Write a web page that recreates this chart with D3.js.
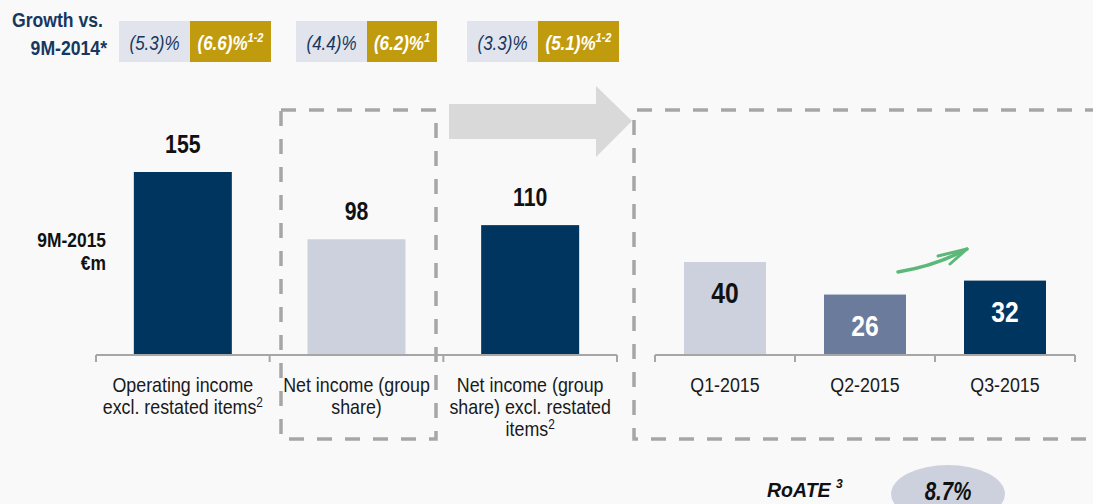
<!DOCTYPE html>
<html>
<head>
<meta charset="utf-8">
<script src="https://cdn.jsdelivr.net/npm/d3@7"></script>
<style>
  body { margin: 0; background: #f9f9f9; }
  svg { display: block; font-family: "Liberation Sans", Arial, sans-serif; }
</style>
</head>
<body>
<div id="main"></div>
<script>
// data
var leftCats = ["Operating income excl. restated items", "Net income (group share)", "Net income (group share) excl. restated items"];
var leftLines = [["Operating income", "excl. restated items"], ["Net income (group", "share)"], ["Net income (group", "share) excl. restated", "items"]];
var leftNotes = ["2", "", "2"];
var leftValues = [155, 98, 110];
var quarters = ["Q1-2015", "Q2-2015", "Q3-2015"];
var quarterValues = [40, 26, 32];
var growthLight = ["(5.3)%", "(4.4)%", "(3.3)%"];
var growthGold = ["(6.6)%", "(6.2)%", "(5.1)%"];
var growthNotes = ["1-2", "1", "1-2"];
var roate = "8.7%";

var navy = "#003560", pale = "#cdd1de", mid = "#6b7b9b", gold = "#c19b0e", grey = "#a6a6a6";
var leftColors = [navy, pale, navy];
var rightColors = [pale, mid, navy];
var NARROW = 0.85; // the original uses a condensed face

var W = 1093, H = 504;
var svg = d3.select("#main").append("svg").attr("width", W).attr("height", H);

// condensed text: scale horizontally around the anchor point
function ntext(parent, x, y, size, sx) {
  return parent.append("text")
    .attr("transform", "translate(" + x + "," + y + ") scale(" + (sx || NARROW) + ",1)")
    .attr("font-size", size);
}

// scales
var xL = d3.scaleBand().domain(leftCats).range([96, 617]);
var xR = d3.scaleBand().domain(quarters).range([655, 1075]);
var yL = d3.scaleLinear().domain([0, 155]).range([355, 172]);
var yR = d3.scaleLinear().domain([0, 40]).range([355, 262]);
var bwL = 98, bwR = 82;

// growth header
ntext(svg, 103, 27, 21, 0.84).attr("text-anchor", "end").attr("fill", "#17375e")
  .attr("font-weight", "bold").text("Growth vs.");
ntext(svg, 107, 55, 21, 0.84).attr("text-anchor", "end").attr("fill", "#17375e")
  .attr("font-weight", "bold").text("9M-2014*");

var boxX = [119, 296, 467];
var goldW = [81, 70, 81];
growthLight.forEach(function(d, i) {
  var g = svg.append("g").attr("transform", "translate(" + boxX[i] + ",21)");
  g.append("rect").attr("width", 71).attr("height", 41).attr("fill", "#e1e4ec");
  g.append("rect").attr("x", 71).attr("width", goldW[i]).attr("height", 41).attr("fill", gold);
  ntext(g, 35.5, 29, 20).attr("text-anchor", "middle").attr("font-style", "italic")
    .attr("fill", "#17375e").text(d);
  var t = ntext(g, 71 + goldW[i] / 2, 29, 20).attr("text-anchor", "middle").attr("font-style", "italic")
    .attr("font-weight", "bold").attr("fill", "#fff");
  t.append("tspan").text(growthGold[i]);
  t.append("tspan").attr("font-size", 13).attr("dy", -8).text(growthNotes[i]);
});

// dashed frames
svg.append("rect").attr("x", 281).attr("y", 110).attr("width", 155).attr("height", 329)
  .attr("fill", "none").attr("stroke", grey).attr("stroke-width", 3.5).attr("stroke-dasharray", "15 13");
svg.append("path").attr("d", "M1100,110H634V439H1100")
  .attr("fill", "none").attr("stroke", grey).attr("stroke-width", 3.5).attr("stroke-dasharray", "15 13");

// big arrow
svg.append("path").attr("d", "M449,104H596V86L632,121L596,157V139H449Z").attr("fill", "#d9d9d9");

// y label
ntext(svg, 106, 247, 20, 0.87).attr("text-anchor", "end").attr("font-weight", "bold").attr("fill", "#111").text("9M-2015");
ntext(svg, 106, 270, 20, 0.87).attr("text-anchor", "end").attr("font-weight", "bold").attr("fill", "#111").text("€m");

// left bars
svg.selectAll(".barL").data(leftValues).enter().append("rect")
  .attr("x", function(d, i) { return xL(leftCats[i]) + xL.bandwidth() / 2 - bwL / 2; })
  .attr("y", function(d) { return yL(d); })
  .attr("width", bwL).attr("height", function(d) { return yL(0) - yL(d); })
  .attr("fill", function(d, i) { return leftColors[i]; });
leftValues.forEach(function(d, i) {
  ntext(svg, xL(leftCats[i]) + xL.bandwidth() / 2, yL(d) - 19, 25)
    .attr("text-anchor", "middle").attr("font-weight", "bold").attr("fill", "#111").text(d);
});

// right bars
svg.selectAll(".barR").data(quarterValues).enter().append("rect")
  .attr("x", function(d, i) { return xR(quarters[i]) + xR.bandwidth() / 2 - bwR / 2; })
  .attr("y", function(d) { return yR(d); })
  .attr("width", bwR).attr("height", function(d) { return yR(0) - yR(d); })
  .attr("fill", function(d, i) { return rightColors[i]; });
quarterValues.forEach(function(d, i) {
  ntext(svg, xR(quarters[i]) + xR.bandwidth() / 2, yR(d) + 41, 29)
    .attr("text-anchor", "middle").attr("font-weight", "bold")
    .attr("fill", i == 0 ? "#111" : "#fff").text(d);
});

// axes
function drawAxis(scale, cats, lines, notes) {
  var r = scale.range();
  svg.append("line").attr("x1", r[0]).attr("x2", r[1]).attr("y1", 355).attr("y2", 355)
    .attr("stroke", grey).attr("stroke-width", 2);
  var edges = cats.map(function(c) { return scale(c); }).concat([r[1]]);
  edges.forEach(function(d) {
    svg.append("line").attr("x1", d).attr("x2", d).attr("y1", 355).attr("y2", 362)
      .attr("stroke", grey).attr("stroke-width", 2);
  });
  cats.forEach(function(c, i) {
    var cx = scale(c) + scale.bandwidth() / 2;
    lines[i].forEach(function(l, j) {
      var t = ntext(svg, cx, 392 + j * 22, 21).attr("text-anchor", "middle").attr("fill", "#1a1a1a");
      t.append("tspan").text(l);
      if (j == lines[i].length - 1 && notes[i]) {
        t.append("tspan").attr("font-size", 14).attr("dy", -7).text(notes[i]);
      }
    });
  });
}
drawAxis(xL, leftCats, leftLines, leftNotes);
drawAxis(xR, quarters, quarters.map(function(q) { return [q]; }), ["", "", ""]);

// green trend arrow
var green = "#5cb878";
svg.append("path").attr("d", "M898,272Q935,266 967,249").attr("fill", "none")
  .attr("stroke", green).attr("stroke-width", 3.5).attr("stroke-linecap", "round");
svg.append("path").attr("d", "M938,256L967,249L950,264").attr("fill", "none")
  .attr("stroke", green).attr("stroke-width", 3).attr("stroke-linecap", "round").attr("stroke-linejoin", "round");

// RoATE
var ro = ntext(svg, 767, 497, 21, 0.93).attr("font-weight", "bold").attr("font-style", "italic").attr("fill", "#111");
ro.append("tspan").text("RoATE ");
ro.append("tspan").attr("font-size", 13).attr("dy", -9).text("3");
svg.append("ellipse").attr("cx", 948).attr("cy", 494).attr("rx", 57).attr("ry", 29).attr("fill", pale);
ntext(svg, 948, 500, 25, 0.82).attr("text-anchor", "middle").attr("font-weight", "bold")
  .attr("font-style", "italic").attr("fill", "#111").text(roate);
</script>
</body>
</html>
